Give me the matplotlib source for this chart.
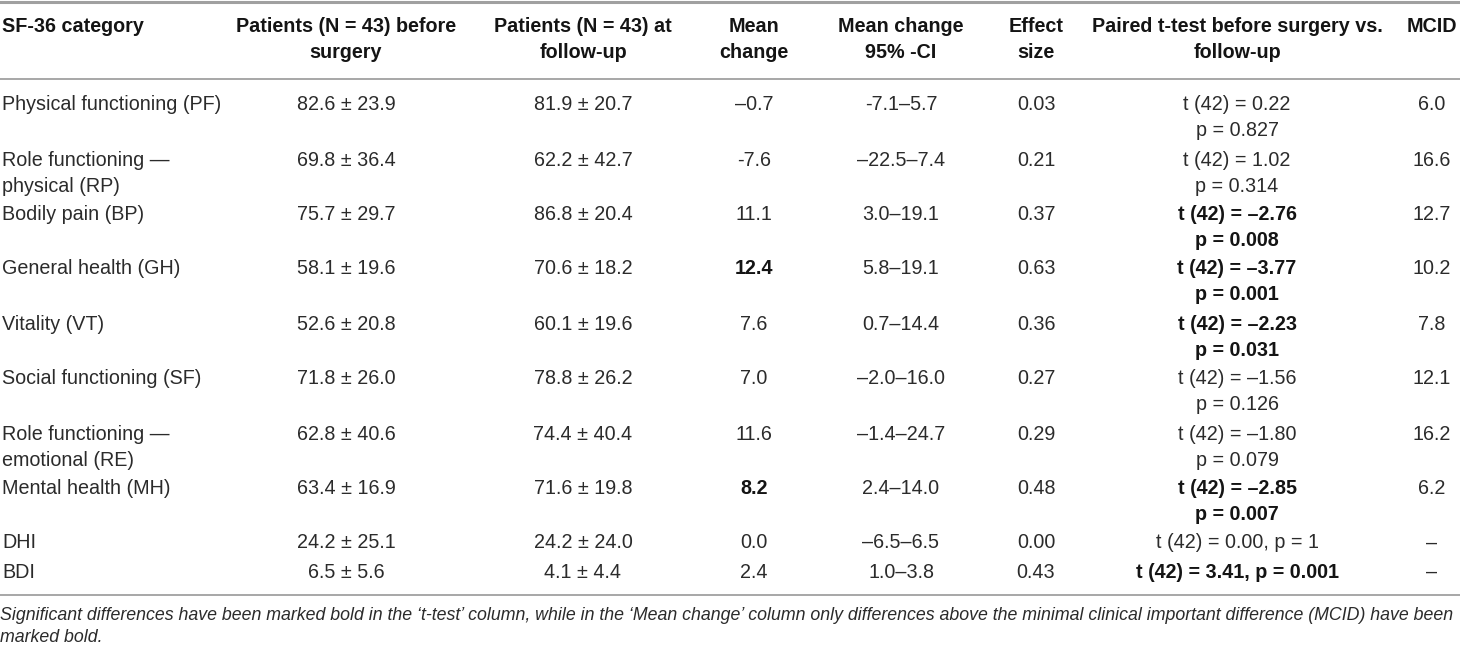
import matplotlib.pyplot as plt

plt.rcParams['font.family'] = ['Liberation Sans', 'DejaVu Sans']

# table content
headers = ['SF-36 category',
           'Patients (N = 43) before\nsurgery',
           'Patients (N = 43) at\nfollow-up',
           'Mean\nchange',
           'Mean change\n95% -CI',
           'Effect\nsize',
           'Paired t-test before surgery vs.\nfollow-up',
           'MCID']

categories = ['Physical functioning (PF)', 'Role functioning —\nphysical (RP)',
              'Bodily pain (BP)', 'General health (GH)', 'Vitality (VT)',
              'Social functioning (SF)', 'Role functioning —\nemotional (RE)',
              'Mental health (MH)', 'DHI', 'BDI']
before = ['82.6 ± 23.9', '69.8 ± 36.4', '75.7 ± 29.7', '58.1 ± 19.6', '52.6 ± 20.8',
          '71.8 ± 26.0', '62.8 ± 40.6', '63.4 ± 16.9', '24.2 ± 25.1', '6.5 ± 5.6']
followup = ['81.9 ± 20.7', '62.2 ± 42.7', '86.8 ± 20.4', '70.6 ± 18.2', '60.1 ± 19.6',
            '78.8 ± 26.2', '74.4 ± 40.4', '71.6 ± 19.8', '24.2 ± 24.0', '4.1 ± 4.4']
mean_change = ['–0.7', '-7.6', '11.1', '12.4', '7.6', '7.0', '11.6', '8.2', '0.0', '2.4']
mean_change_bold = [False, False, False, True, False, False, False, True, False, False]
ci95 = ['-7.1–5.7', '–22.5–7.4', '3.0–19.1', '5.8–19.1', '0.7–14.4',
        '–2.0–16.0', '–1.4–24.7', '2.4–14.0', '–6.5–6.5', '1.0–3.8']
effect = ['0.03', '0.21', '0.37', '0.63', '0.36', '0.27', '0.29', '0.48', '0.00', '0.43']
t_test = ['t (42) = 0.22\np = 0.827', 't (42) = 1.02\np = 0.314',
          't (42) = –2.76\np = 0.008', 't (42) = –3.77\np = 0.001',
          't (42) = –2.23\np = 0.031', 't (42) = –1.56\np = 0.126',
          't (42) = –1.80\np = 0.079', 't (42) = –2.85\np = 0.007',
          't (42) = 0.00, p = 1', 't (42) = 3.41, p = 0.001']
t_bold = [False, False, True, True, True, False, False, True, False, True]
mcid = ['6.0', '16.6', '12.7', '10.2', '7.8', '12.1', '16.2', '6.2', '–', '–']

footnote = ('Significant differences have been marked bold in the \u2018t-test\u2019 column, '
            'while in the \u2018Mean change\u2019 column only differences above the minimal '
            'clinical important difference (MCID) have been\nmarked bold.')

# layout (pixels)
W, H = 1460, 648
col_x = [2, 346, 583, 754, 901, 1036, 1237, 1432]
col_ha = ['left'] + ['center'] * 7
header_y = 27
row_y = [105, 160, 215, 269, 324, 379, 434, 488, 543, 572]
line_gap = 26
fs = 14.2
txt_col = '#2b2b2b'
bold_col = '#141414'
rule_col = '#a0a0a0'

fig = plt.figure(figsize=(W / 100, H / 100), dpi=100)
ax = fig.add_axes([0, 0, 1, 1])
ax.set_xlim(0, W)
ax.set_ylim(H, 0)
ax.axis('off')


def cell(x, y, s, ha, bold=False):
    for i, line in enumerate(s.split('\n')):
        ax.text(x, y + i * line_gap, line, ha=ha, va='center', fontsize=fs,
                fontweight='bold' if bold else 'normal',
                color=bold_col if bold else txt_col)


# rules
ax.axhline(1.5, color=rule_col, lw=2.2)
ax.axhline(79, color=rule_col, lw=1.3)
ax.axhline(595, color=rule_col, lw=1.3)

for j, h in enumerate(headers):
    cell(col_x[j], header_y, h, col_ha[j], bold=True)

columns = [categories, before, followup, mean_change, ci95, effect, t_test, mcid]
for i, y in enumerate(row_y):
    for j, col in enumerate(columns):
        bold = (j == 3 and mean_change_bold[i]) or (j == 6 and t_bold[i])
        cell(col_x[j], y, col[i], col_ha[j], bold=bold)

for i, line in enumerate(footnote.split('\n')):
    ax.text(0, 615 + i * 23, line, ha='left', va='center', fontsize=12.8,
            fontstyle='italic', color=txt_col)

fig.savefig('out.png', dpi=100)
